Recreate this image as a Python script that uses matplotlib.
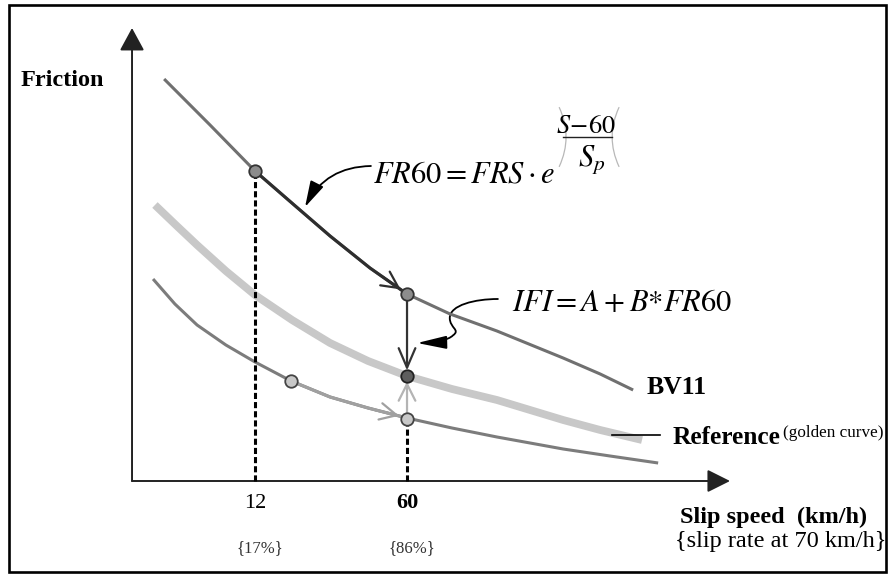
import numpy as np
import matplotlib
matplotlib.use("Agg")
import matplotlib.pyplot as plt
from matplotlib.patches import Rectangle, FancyArrowPatch
from matplotlib.path import Path

plt.rcParams['font.family'] = ['Liberation Serif', 'DejaVu Serif']
plt.rcParams['mathtext.fontset'] = 'stix'

# schematic curves: slip speed (km/h) vs friction (arbitrary units)
bv11_speed = [-16.7, -2.2, 12.0, 24.0, 35.7, 48.3, 60.0, 73.6, 88.4, 109.3, 121.0, 131.4]
bv11_fric = [100.5, 89.0, 77.5, 69.25, 61.25, 53.25, 46.75, 41.75, 37.5, 30.75, 26.75, 22.75]

gold_speed = [-19.6, -13.0, -6.3, 2.8, 12.0, 23.7, 35.7, 47.7, 60.0, 74.2, 88.4, 109.3,
              121.0, 134.2]
gold_fric = [69.0, 64.0, 59.0, 52.5, 46.5, 40.25, 34.5, 30.0, 26.25, 23.0, 20.25, 15.25,
             12.75, 10.25]

low_speed = [-20.2, -13.3, -6.3, 2.8, 12.0, 23.4, 35.7, 47.7, 60.0, 74.2, 88.4, 109.3,
             124.1, 139.3]
low_fric = [50.5, 44.25, 39.0, 34.0, 29.75, 25.0, 21.0, 18.25, 15.75, 13.25, 11.0, 8.0,
            6.25, 4.5]

tick_speeds = [12, 60]
tick_labels = ['12', '60']
rate_labels = ['{17%}', '{86%}']

# points marked on the curves
bv11_pts = ([12, 60], [77.5, 46.75])
gold_pt = (60, 26.25)
low_pts = ([23.4, 60], [25.0, 15.5])

origin_speed = -26.84

fig = plt.figure(figsize=(8.89, 5.75), dpi=100)
ax = fig.add_axes([0, 0, 1, 1])
ax.set_xlim(-68.53, 212.2)
ax.set_ylim(-23.5, 120.25)
ax.axis('off')

# frame round the picture
fig.patches.append(Rectangle((0.0098, 0.0045), 0.987, 0.986, transform=fig.transFigure,
                             fill=False, lw=1.9, ec='black'))

# axes with arrow heads
ax.annotate('', xy=(162.0, 0), xytext=(origin_speed, 0),
            arrowprops=dict(arrowstyle='-|>,head_length=0.7,head_width=0.35', mutation_scale=20,
                            lw=1.4, color='#222222', shrinkA=0, shrinkB=0))
ax.annotate('', xy=(origin_speed, 113.25), xytext=(origin_speed, 0),
            arrowprops=dict(arrowstyle='-|>,head_length=0.7,head_width=0.38', mutation_scale=20,
                            lw=1.4, color='#222222', shrinkA=0, shrinkB=0))

# curves
ax.plot(gold_speed, gold_fric, color='#c8c8c8', lw=5.6, solid_capstyle='butt', zorder=2)
ax.plot(bv11_speed, bv11_fric, color='#707070', lw=2.2, solid_capstyle='butt', zorder=3)
ax.plot(low_speed, low_fric, color='#7c7c7c', lw=2.2, solid_capstyle='butt', zorder=3)

# highlighted stretch of BV11 from 12 to 60 km/h
seg = [(s, f) for s, f in zip(bv11_speed, bv11_fric) if 12 <= s <= 60]
ax.plot([p[0] for p in seg], [p[1] for p in seg], color='#2e2e2e', lw=2.2, zorder=4)
ax.annotate('', xy=(58.0, 47.9), xytext=(52.0, 51.2),
            arrowprops=dict(arrowstyle='->,head_length=0.6,head_width=0.3', mutation_scale=20,
                            lw=1.6, color='#2e2e2e', shrinkA=0, shrinkB=0), zorder=5)

# highlighted stretch of the lower curve
seg = [(s, f) for s, f in zip(low_speed, low_fric) if 23.4 <= s <= 60]
ax.plot([p[0] for p in seg], [p[1] for p in seg], color='#a0a0a0', lw=2.2, zorder=4)
ax.annotate('', xy=(57.5, 16.3), xytext=(50.0, 17.7),
            arrowprops=dict(arrowstyle='->,head_length=0.6,head_width=0.3', mutation_scale=20,
                            lw=1.6, color='#a0a0a0', shrinkA=0, shrinkB=0), zorder=5)

# dashed drop lines
ax.plot([12, 12], [0, bv11_pts[1][0]], color='black', lw=2.2, ls=(0, (2, 1)), zorder=3)
ax.plot([60, 60], [0, low_pts[1][1]], color='black', lw=2.2, ls=(0, (2, 1)), zorder=3)

# vertical arrows at 60 km/h
ax.annotate('', xy=gold_pt, xytext=(60, bv11_pts[1][1]),
            arrowprops=dict(arrowstyle='->,head_length=0.7,head_width=0.3', mutation_scale=20,
                            lw=1.6, color='#333333', shrinkA=5, shrinkB=4), zorder=5)
ax.annotate('', xy=gold_pt, xytext=(60, low_pts[1][1]),
            arrowprops=dict(arrowstyle='->,head_length=0.6,head_width=0.3', mutation_scale=20,
                            lw=1.6, color='#b4b4b4', shrinkA=5, shrinkB=4), zorder=5)

# markers
ax.plot(bv11_pts[0], bv11_pts[1], 'o', ms=9, mfc='#8c8c8c', mec='#333333', mew=1.3, zorder=6)
ax.plot([gold_pt[0]], [gold_pt[1]], 'o', ms=9, mfc='#5e5e5e', mec='#222222', mew=1.3, zorder=6)
ax.plot(low_pts[0], low_pts[1], 'o', ms=9, mfc='#c8c8c8', mec='#444444', mew=1.3, zorder=6)

# tick labels
ax.text(tick_speeds[0], -5.6, tick_labels[0], ha='center', va='center', fontsize=16)
ax.text(tick_speeds[1], -5.6, tick_labels[1], ha='center', va='center', fontsize=16,
        fontweight='bold')
for s, lab in zip(tick_speeds, rate_labels):
    ax.text(s + 1.5, -16.7, lab, ha='center', va='center', fontsize=12, color='#333333')

# axis titles and curve names
ax.text(-48.9, 100, 'Friction', ha='center', va='center', fontsize=17.5, fontweight='bold')
ax.text(146.2, -9.1, 'Slip speed  (km/h)', ha='left', va='center', fontsize=17.5,
        fontweight='bold')
ax.text(144.6, -15.2, '{slip rate at 70 km/h}', ha='left', va='center', fontsize=17.5)
ax.text(135.8, 23.5, 'BV11', ha='left', va='center', fontsize=18.5, fontweight='bold')
ax.plot([124.7, 139.9], [11.5, 11.5], color='black', lw=1.2)
ax.text(143.7, 10.75, 'Reference', ha='left', va='center', fontsize=18.3, fontweight='bold')
ax.text(178.7, 11.9, '(golden curve)', ha='left', va='center', fontsize=12.3)

# formulas
ax.text(49.3, 74.6, r'$FR60 = FRS\cdot e$', ha='left', va='baseline', fontsize=22)
# exponent (S-60)/Sp set as a tall fraction
ax.text(116.7, 88.6, r'$S\!-\!60$', ha='center', va='center', fontsize=19)
ax.plot([109.3, 124.7], [86.0, 86.0], color='#222222', lw=1.0)
ax.text(118.2, 80.3, r'$S_p$', ha='center', va='center', fontsize=22)
for x0, rad in [(107.7, -0.25), (127.3, 0.25)]:
    ax.add_patch(FancyArrowPatch((x0, 94.0), (x0, 78.0), arrowstyle='-', lw=0.9,
                                 color='#b8b8b8', connectionstyle=f'arc3,rad={rad}'))
ax.text(93.2, 44.5, r'$IFI = A + B{*}FR60$', ha='left', va='center', fontsize=22)

# leader arrows
ax.annotate('', xy=(27.8, 68.5), xytext=(48.6, 78.75),
            arrowprops=dict(arrowstyle='-|>,head_length=0.8,head_width=0.22', mutation_scale=20,
                            lw=1.3, color='black', connectionstyle='arc3,rad=0.3',
                            shrinkA=0, shrinkB=0))
verts = [(88.7, 45.5), (81.5, 45.5), (73.5, 44.0), (73.5, 40.75),
         (73.5, 38.2), (77.0, 37.8), (74.5, 36.4),
         (73.0, 35.2), (69.0, 34.6), (63.2, 34.5)]
codes = [Path.MOVETO] + [Path.CURVE4] * 9
ax.add_patch(FancyArrowPatch(path=Path(verts, codes),
                             arrowstyle='-|>,head_length=0.9,head_width=0.2', mutation_scale=20,
                             lw=1.3, color='black'))

fig.savefig('out.png', dpi=100)
